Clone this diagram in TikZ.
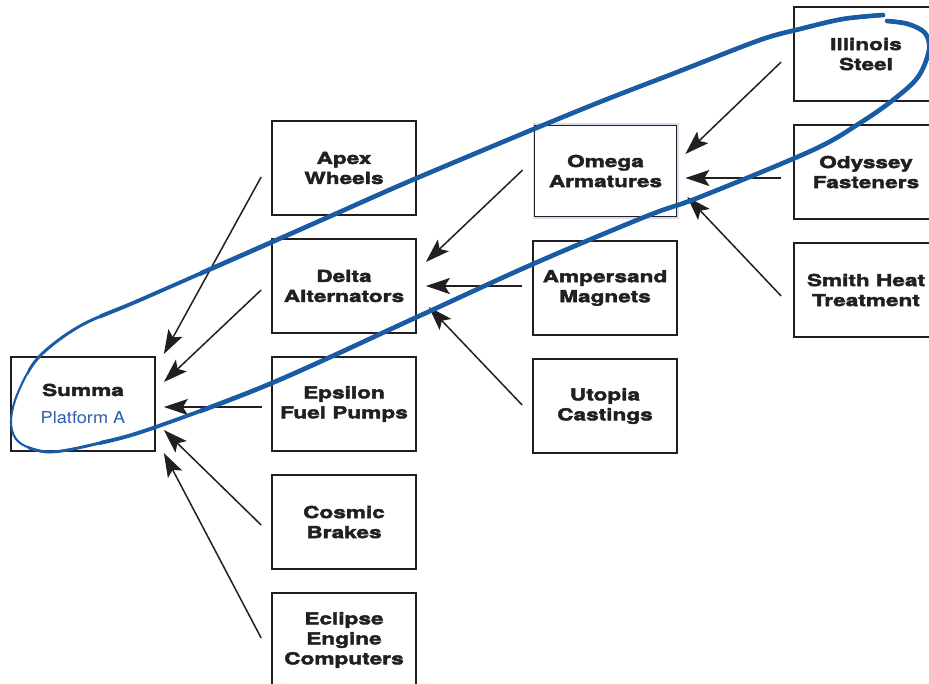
\documentclass[tikz,border=0pt]{standalone}
\usepackage{fontspec}
\usetikzlibrary{arrows.meta,calc}
\newfontfamily\boxfont{TeX Gyre Heros}[FakeStretch=1.37, BoldFeatures={FakeBold=2.5}]
\newfontfamily\platfont{TeX Gyre Heros}[FakeStretch=1.1]
\definecolor{ink}{HTML}{231F20}
\definecolor{loopblue}{HTML}{1A5BA6}
\definecolor{plat}{HTML}{2E5FAE}
\definecolor{halo}{HTML}{D9DCEE}
\begin{document}
\begin{tikzpicture}[x=1pt,y=-1pt,
  supbox/.style={draw=ink, line width=1.7pt, minimum width=144pt, minimum height=94pt,
    inner sep=0pt, align=center, text=ink,
    font=\boxfont\bfseries\fontsize{16.5}{20}\selectfont},
  arr/.style={draw=ink, line width=1.5pt, -{Stealth[length=24pt,width=16pt,inset=5pt]}},
  loopline/.style={draw=loopblue, line cap=round, line join=round}]
\useasboundingbox (0,0) rectangle (929,683);
\clip (0,0) rectangle (929,683);
\fill[white] (0,0) rectangle (929,683);

% nodes
\node[supbox] (summa) at (83,404) {Summa\\[8pt]{\platfont\mdseries\color{plat}Platform A}};
\node[supbox] (apex) at (344,168) {Apex\\Wheels};
\node[supbox] (delta) at (344,286) {Delta\\Alternators};
\node[supbox] (epsilon) at (344,404) {Epsilon\\Fuel Pumps};
\node[supbox] (cosmic) at (344,522) {Cosmic\\Brakes};
\node[supbox] (eclipse) at (344,640) {Eclipse\\Engine\\Computers};
\draw[halo, line width=2pt] (534,124) rectangle (678,218);
\node[supbox, minimum width=142pt, minimum height=91pt] (omega) at (605.5,171) {Omega\\Armatures};
\node[supbox] (ampersand) at (605,288) {Ampersand\\Magnets};
\node[supbox] (utopia) at (605,406) {Utopia\\Castings};
\node[supbox] (illinois) at (866,54) {Illinois\\Steel};
\node[supbox] (odyssey) at (866,172) {Odyssey\\Fasteners};
\node[supbox] (smith) at (866,290) {Smith Heat\\Treatment};

% arrows to Summa
\draw[arr] ($(apex.west)+(-10,9)$) -- ($(summa.east)+(8,-50)$);
\draw[arr] ($(delta.west)+(-10,4)$) -- ($(summa.east)+(8,-22)$);
\draw[arr] ($(epsilon.west)+(-9,3)$) -- ($(summa.east)+(8,3)$);
\draw[arr] ($(cosmic.west)+(-10,3)$) -- ($(summa.east)+(8,26)$);
\draw[arr] ($(eclipse.west)+(-10,-2)$) -- ($(summa.east)+(8,49)$);
% arrows to Delta
\draw[arr] ($(omega.west)+(-11,-1)$) -- ($(delta.east)+(9,-24)$);
\draw[arr] ($(ampersand.west)+(-10,-2)$) -- ($(delta.east)+(9,0)$);
\draw[arr] ($(utopia.west)+(-10,-1)$) -- ($(delta.east)+(12,21)$);
% arrows to Omega
\draw[arr] ($(illinois.west)+(-12,8)$) -- ($(omega.east)+(8,-17)$);
\draw[arr] ($(odyssey.west)+(-12,6)$) -- ($(omega.east)+(8,7)$);
\draw[arr] ($(smith.west)+(-12,6)$) -- ($(omega.east)+(10,26)$);

% blue loop
\def\loopcurve{plot[smooth, tension=0.55] coordinates {
 (887,21) (908,24) (925,33) (929,50) (918,77) (893,100) (860,123) (813,150)
 (700,197) (647,216) (533,264) (417,317) (272,383) (153,428) (100,443) (50,452)
 (20,443) (11,424) (17,395) (38,358) (80,326) (140,300) (272,242) (333,215)
 (417,178) (580,110) (680,71) (760,40) (800,29) (843,19) (883,15)}}
\draw[loopline, line width=2.1pt] \loopcurve;
\begin{scope}
  \clip (28,0) rectangle (929,683);
  \draw[loopline, line width=2.9pt] \loopcurve;
\end{scope}
\begin{scope}
  \clip (100,0) rectangle (929,683);
  \draw[loopline, line width=3.8pt] \loopcurve;
\end{scope}
\begin{scope}
  \clip (200,0) rectangle (929,683);
  \draw[loopline, line width=4.6pt] \loopcurve;
\end{scope}
\end{tikzpicture}
\end{document}
